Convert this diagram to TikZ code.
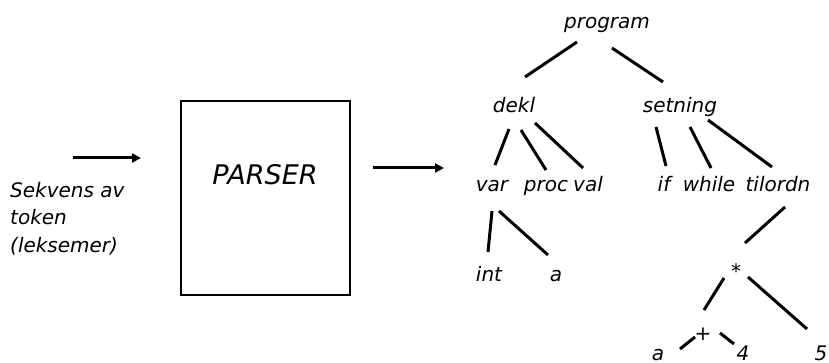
\documentclass[tikz,border=0pt]{standalone}
\usepackage{fontspec}
\setmainfont{DejaVu Sans}
\usetikzlibrary{arrows.meta}
\begin{document}
\begin{tikzpicture}[x=1pt,y=-1pt,
  lbl/.style={font=\fontsize{20}{24}\selectfont\itshape, inner sep=0pt, anchor=base},
  edge/.style={line width=3pt},
  flow/.style={line width=3pt, -{Triangle[length=9pt,width=9pt]}},
  box/.style={draw, line width=2.6pt, minimum width=169pt, minimum height=194pt, inner sep=0pt}
]
\useasboundingbox (0,0) rectangle (829,363);
% input arrow and text
\coordinate (in1) at (73,158);
\coordinate (in2) at (141,158);
\draw[flow] (in1) -- (in2);
\node[lbl, anchor=base west] (t1) at (10,198) {Sekvens av};
\node[lbl, anchor=base west] (t2) at (10,225) {token};
\node[lbl, anchor=base west] (t3) at (10,252) {(leksemer)};
% parser box
\node[box] (parser) at (265.5,198) {};
\node[lbl, font=\fontsize{27}{32}\selectfont\itshape] (ptext) at (265,185) {PARSER};
% output arrow
\coordinate (out1) at (373,168);
\coordinate (out2) at (444,168);
\draw[flow] (out1) -- (out2);
% tree nodes
\node[lbl] (program) at (607,29) {program};
\node[lbl] (dekl) at (514,113) {dekl};
\node[lbl] (setning) at (680,113) {setning};
\node[lbl] (var) at (492,192) {var};
\node[lbl] (proc) at (546,192) {proc};
\node[lbl] (val) at (588,192) {val};
\node[lbl] (if) at (664,192) {if};
\node[lbl] (while) at (709,192) {while};
\node[lbl] (tilordn) at (778,192) {tilordn};
\node[lbl] (int) at (489,281) {int};
\node[lbl] (a1) at (556,281) {a};
\node[lbl] (mul) at (736,278) {*};
\node[lbl] (plus) at (703,340) {+};
\node[lbl] (a2) at (658,360) {a};
\node[lbl] (four) at (743,360) {4};
\node[lbl] (five) at (821,360) {5};
% connector end points
\coordinate (p-d1) at (577,42);  \coordinate (p-d2) at (525,77);
\coordinate (p-s1) at (612,48);  \coordinate (p-s2) at (663,82);
\coordinate (d-v1) at (509,129); \coordinate (d-v2) at (495,165);
\coordinate (d-p1) at (521,130); \coordinate (d-p2) at (546,170);
\coordinate (d-l1) at (535,123); \coordinate (d-l2) at (583,168);
\coordinate (s-i1) at (656,127); \coordinate (s-i2) at (666,166);
\coordinate (s-w1) at (690,127); \coordinate (s-w2) at (711,168);
\coordinate (s-t1) at (708,120); \coordinate (s-t2) at (772,167);
\coordinate (v-i1) at (492,211); \coordinate (v-i2) at (488,252);
\coordinate (v-a1) at (499,211); \coordinate (v-a2) at (548,255);
\coordinate (t-m1) at (785,207); \coordinate (t-m2) at (745,243);
\coordinate (m-p1) at (724,278); \coordinate (m-p2) at (704,310);
\coordinate (m-f1) at (748,277); \coordinate (m-f2) at (807,329);
\coordinate (p-a1) at (695,337); \coordinate (p-a2) at (680,349);
\coordinate (p-41) at (720,333); \coordinate (p-42) at (734,344);
\foreach \e in {p-d,p-s,d-v,d-p,d-l,s-i,s-w,s-t,v-i,v-a,t-m,m-p,m-f,p-a,p-4}
  \draw[edge] (\e1) -- (\e2);
\end{tikzpicture}
\end{document}
